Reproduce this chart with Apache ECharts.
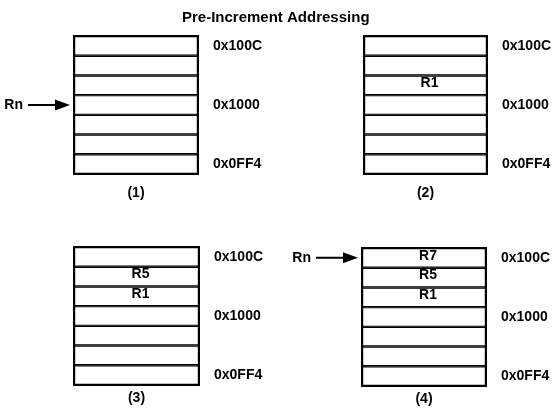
<!DOCTYPE html>
<html>
<head>
<meta charset="utf-8">
<script src="https://cdn.jsdelivr.net/npm/echarts@6/dist/echarts.min.js"></script>
<style>
  html, body { margin: 0; padding: 0; background: #fff; }
  #chart { width: 556px; height: 410px; }
</style>
</head>
<body>
<div id="chart"></div>
<script>
// word addresses, top of the stack first
const addresses = ['0x100C', '0x1008', '0x1004', '0x1000', '0x0FFC', '0x0FF8', '0x0FF4'];

// register held in each word, one array per step
const step1 = ['', '', '', '', '', '', ''];
const step2 = ['', '', 'R1', '', '', '', ''];
const step3 = ['', 'R5', 'R1', '', '', '', ''];
const step4 = ['R7', 'R5', 'R1', '', '', '', ''];
const steps = [step1, step2, step3, step4];

const captions = ['(1)', '(2)', '(3)', '(4)'];
// word that Rn points at (null = no arrow)
const pointers = ['0x1000', null, null, '0x100C'];

const FONT = '"Liberation Sans", Arial, sans-serif';
const ARROW = 'path://M0,4.5L27,4.5L27,0L42,5.5L27,11L27,6.5L0,6.5Z';

const boxes = [
  { left: 74, top: 36, width: 124, height: 138 },
  { left: 364, top: 36, width: 123, height: 138 },
  { left: 74, top: 247, width: 125, height: 138 },
  { left: 362, top: 248, width: 124, height: 138 },
];
const captionGaps = [12, 12, 6, 6];

const chart = echarts.init(document.getElementById('chart'));

const option = {
  animation: false,
  title: {
    text: 'Pre-Increment Addressing',
    left: 177,
    top: 5,
    textStyle: { fontFamily: FONT, fontSize: 15, fontWeight: 'bold', color: '#000' },
  },
  grid: boxes.map((b) => ({
    ...b,
    show: true,
    backgroundColor: '#fff',
    borderColor: '#000',
    borderWidth: 2,
    outerBoundsMode: 'none',
  })),
  xAxis: boxes.map((b, i) => ({
    type: 'value',
    gridIndex: i,
    min: 0,
    max: 1,
    axisLine: { show: false },
    axisTick: { show: false },
    axisLabel: { show: false },
    splitLine: { show: false },
    name: captions[i],
    nameLocation: 'middle',
    nameGap: captionGaps[i],
    nameTextStyle: { fontFamily: FONT, fontSize: 14, fontWeight: 'bold', color: '#000' },
  })),
  yAxis: boxes.map((b, i) => ({
    type: 'category',
    gridIndex: i,
    data: addresses,
    inverse: true,
    position: 'right',
    axisLine: { show: false },
    axisTick: { show: false },
    splitLine: { show: false },
    axisLabel: {
      interval: 2,
      margin: 15,
      color: '#000',
      fontFamily: FONT,
      fontSize: 14,
      fontWeight: 'bold',
    },
  })),
  series: steps.map((regs, i) => ({
    type: 'bar',
    xAxisIndex: i,
    yAxisIndex: i,
    data: regs.map(() => 1),
    barWidth: '100%',
    barCategoryGap: 0,
    silent: true,
    itemStyle: { color: '#fff', borderColor: '#000', borderWidth: 1.2 },
    label: {
      show: true,
      position: 'inside',
      offset: [4, -2],
      color: '#000',
      fontFamily: FONT,
      fontSize: 14,
      fontWeight: 'bold',
      formatter: (p) => regs[p.dataIndex],
    },
    markPoint: pointers[i]
      ? {
          silent: true,
          symbol: ARROW,
          symbolSize: [42, 11],
          symbolOffset: [-25, 0],
          itemStyle: { color: '#000' },
          label: {
            show: true,
            position: 'left',
            distance: 5,
            formatter: 'Rn',
            color: '#000',
            fontFamily: FONT,
            fontSize: 14,
            fontWeight: 'bold',
          },
          data: [{ coord: [0, pointers[i]] }],
        }
      : undefined,
  })),
};

chart.setOption(option);
</script>
</body>
</html>
